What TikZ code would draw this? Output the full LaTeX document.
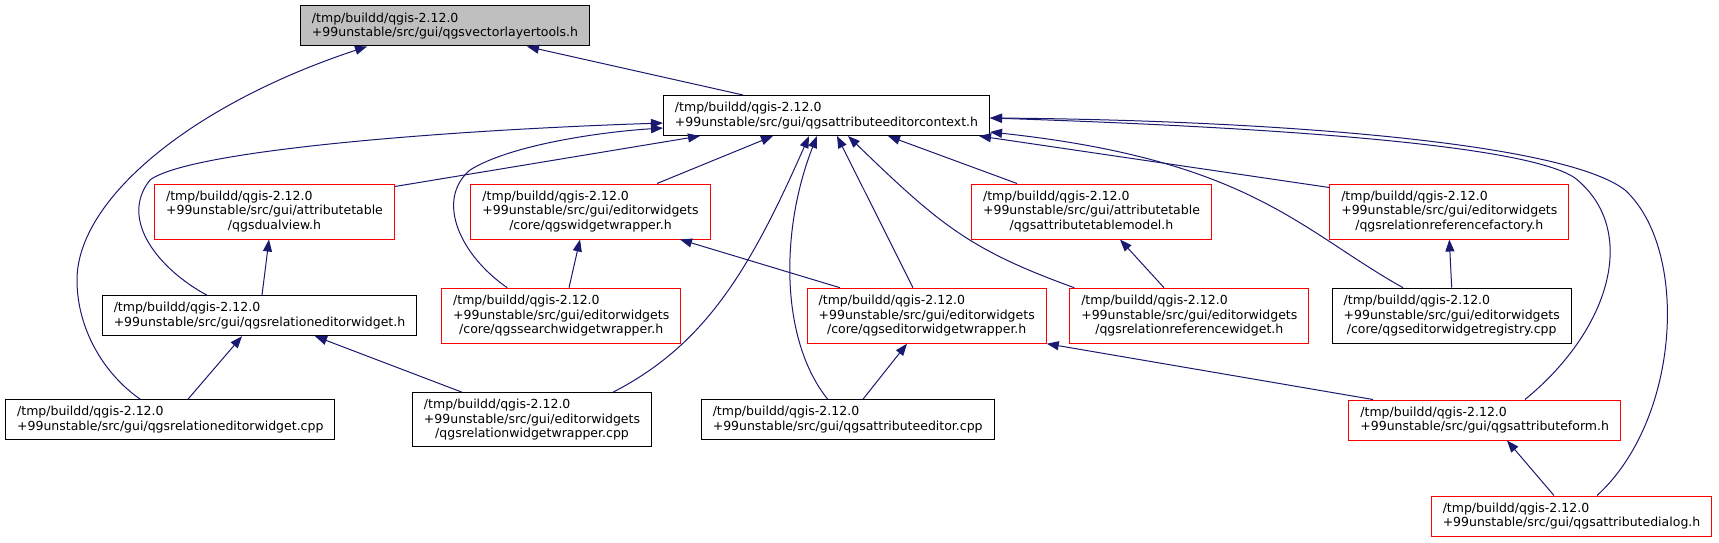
\documentclass[tikz,border=0pt]{standalone}
\usepackage{fontspec}
\setmainfont{DejaVu Sans}
\usetikzlibrary{arrows.meta}
\definecolor{AzulArista}{RGB}{25,25,112}
\definecolor{RojoNodo}{RGB}{255,0,0}
\definecolor{GrisRaiz}{RGB}{191,191,191}
\newlength{\anchoLinea}
\newcommand{\rutaqgis}[1]{\settowidth{\anchoLinea}{#1}\makebox[\anchoLinea][l]{/tmp/buildd/qgis-2.12.0}\\#1}
\tikzset{
  filebox/.style={draw=black, line width=1pt, fill=white, align=center,
    font=\fontsize{12.5}{14.7}\selectfont, inner xsep=11.5pt, inner ysep=0pt,
    minimum height=#1},
  filebox/.default=40pt,
  redbox/.style={filebox=#1, draw=RojoNodo},
  redbox/.default=55pt,
  rootbox/.style={filebox=#1, fill=GrisRaiz},
  rootbox/.default=40pt,
  % ---- aristas de inclusion ----
  incarr/.style={-{Triangle[length=12pt, width=9pt]}, line width=1pt, AzulArista},
}
\begin{document}
\begin{tikzpicture}[x=1pt, y=-1pt]
  \useasboundingbox (0,0) rectangle (1719,543);
  \node[rootbox] (vlt) at (445,26) {\rutaqgis{+99unstable/src/gui/qgsvectorlayertools.h}};
  \node[filebox] (ctx) at (826.5,115.5) {\rutaqgis{+99unstable/src/gui/qgsattributeeditorcontext.h}};
  \node[redbox] (dual) at (274.5,211.5) {\rutaqgis{+99unstable/src/gui/attributetable}\\/qgsdualview.h};
  \node[redbox] (wrap) at (590.5,211.5) {\rutaqgis{+99unstable/src/gui/editorwidgets}\\/core/qgswidgetwrapper.h};
  \node[redbox] (atm) at (1091.5,211.5) {\rutaqgis{+99unstable/src/gui/attributetable}\\/qgsattributetablemodel.h};
  \node[redbox] (rrf) at (1449.3,211.5) {\rutaqgis{+99unstable/src/gui/editorwidgets}\\/qgsrelationreferencefactory.h};
  \node[filebox] (rew) at (259.5,315.7) {\rutaqgis{+99unstable/src/gui/qgsrelationeditorwidget.h}};
  \node[redbox] (sww) at (561.2,315.7) {\rutaqgis{+99unstable/src/gui/editorwidgets}\\/core/qgssearchwidgetwrapper.h};
  \node[redbox] (eww) at (926.7,315.7) {\rutaqgis{+99unstable/src/gui/editorwidgets}\\/core/qgseditorwidgetwrapper.h};
  \node[redbox] (rrw) at (1189.3,315.7) {\rutaqgis{+99unstable/src/gui/editorwidgets}\\/qgsrelationreferencewidget.h};
  \node[filebox=55pt] (ewr) at (1451.7,315.7) {\rutaqgis{+99unstable/src/gui/editorwidgets}\\/core/qgseditorwidgetregistry.cpp};
  \node[filebox] (rewc) at (170.3,419.7) {\rutaqgis{+99unstable/src/gui/qgsrelationeditorwidget.cpp}};
  \node[filebox=54pt] (rww) at (532,419.7) {\rutaqgis{+99unstable/src/gui/editorwidgets}\\/qgsrelationwidgetwrapper.cpp};
  \node[filebox] (aec) at (847.7,419.7) {\rutaqgis{+99unstable/src/gui/qgsattributeeditor.cpp}};
  \node[redbox=40pt] (af) at (1484.7,420) {\rutaqgis{+99unstable/src/gui/qgsattributeform.h}};
  \node[redbox=40pt] (ad) at (1571.5,516) {\rutaqgis{+99unstable/src/gui/qgsattributedialog.h}};

  \draw[incarr] ([xshift=-83.5pt]ctx.north) -- ([xshift=82pt]vlt.south);
  \draw[incarr] ([xshift=-30pt]rewc.north) .. controls (105,375) and (77,330) .. (77,280)
    .. controls (77,200) and (190,105) .. ([xshift=-78pt]vlt.south);
  \draw[incarr] ([xshift=-52.5pt]rew.north) .. controls (160,270) and (118,220) .. (150,180)
    .. controls (190,150) and (450,130) .. ([yshift=-7.5pt]ctx.west);
  \draw[incarr] ([xshift=-54pt]sww.north) .. controls (460,255) and (435,200) .. (470,170)
    .. controls (510,145) and (600,132) .. ([yshift=-12.5pt]ctx.west);
  \draw[incarr] ([yshift=-3pt]dual.north east) -- ([xshift=-126.5pt]ctx.south);
  \draw[incarr] ([xshift=66.5pt]wrap.north) -- ([xshift=-53.5pt]ctx.south);
  \draw[incarr] ([xshift=81pt]rww.north) .. controls (705,345) and (750,270) .. ([xshift=-17.5pt]ctx.south);
  \draw[incarr] ([xshift=-20pt]aec.north) .. controls (780,340) and (780,230) .. ([xshift=-9.5pt]ctx.south);
  \draw[incarr] ([xshift=-13.7pt]eww.north) -- ([xshift=10.5pt]ctx.south);
  \draw[incarr] ([xshift=5pt]rrw.north west) .. controls (970,250) and (940,225) .. ([xshift=21.5pt]ctx.south);
  \draw[incarr] ([xshift=-74.5pt]atm.north) -- ([xshift=61.5pt]ctx.south);
  \draw[incarr] ([yshift=-4pt]rrf.north west) -- ([xshift=-11pt]ctx.south east);
  \draw[incarr] ([xshift=-48.7pt]ewr.north) .. controls (1300,230) and (1250,160) .. ([yshift=-16.5pt]ctx.east);
  \draw[incarr] ([xshift=40.3pt]af.north) .. controls (1610,330) and (1640,230) .. (1575,178)
    .. controls (1520,140) and (1200,125) .. ([yshift=-2.5pt]ctx.east);
  \draw[incarr] ([xshift=25.5pt]ad.north) .. controls (1680,420) and (1690,250) .. (1625,190)
    .. controls (1560,140) and (1250,120) .. ([yshift=-2.5pt]ctx.east);

  \draw[incarr] (ewr.north) -- (rrf.south);
  \draw[incarr] ([xshift=-17.5pt]ad.north) -- ([xshift=22.3pt]af.south);
  \draw[incarr] ([xshift=-111.7pt]af.north) -- (eww.south east);
  \draw[incarr] ([xshift=15.3pt]aec.north) -- ([xshift=-19.7pt]eww.south);
  \draw[incarr] ([xshift=-70pt]rww.north) -- ([xshift=55.5pt]rew.south);
  \draw[incarr] ([xshift=17.7pt]rewc.north) -- ([xshift=-17.5pt]rew.south);
  \draw[incarr] ([xshift=2.5pt]rew.north) -- ([xshift=-5.5pt]dual.south);
  \draw[incarr] ([xshift=7.8pt]sww.north) -- ([xshift=-10.5pt]wrap.south);
  \draw[incarr] ([xshift=-86.7pt]eww.north) -- ([xshift=89.5pt]wrap.south);
  \draw[incarr] ([xshift=-25.3pt]rrw.north) -- ([xshift=28.5pt]atm.south);
\end{tikzpicture}
\end{document}
